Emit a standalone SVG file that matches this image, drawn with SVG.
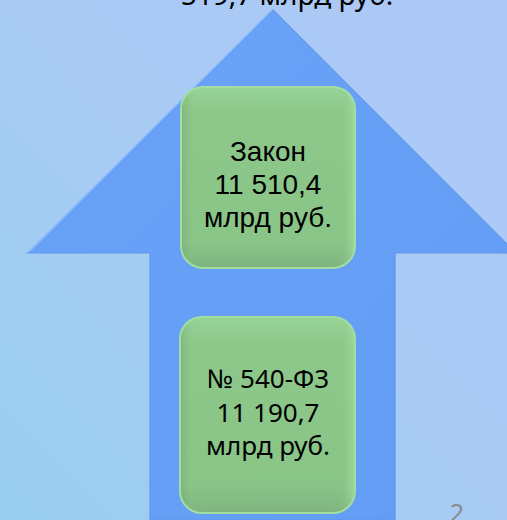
<svg xmlns="http://www.w3.org/2000/svg" width="507" height="520" viewBox="0 0 507 520">
<defs>
<linearGradient id="bg" x1="1" y1="0" x2="0" y2="1">
<stop offset="0" stop-color="#AEC8F7"/>
<stop offset="0.5" stop-color="#A8CBF4"/>
<stop offset="1" stop-color="#98CEF1"/>
</linearGradient>
<linearGradient id="arrowFill" x1="0" y1="0" x2="1" y2="1">
<stop offset="0" stop-color="#6AA3F8"/>
<stop offset="1" stop-color="#629CF4"/>
</linearGradient>
<linearGradient id="boxFill" x1="0" y1="0" x2="0" y2="1">
<stop offset="0" stop-color="#97D396"/>
<stop offset="0.15" stop-color="#8DC88A"/>
<stop offset="0.85" stop-color="#8AC588"/>
<stop offset="1" stop-color="#7FB47F"/>
</linearGradient>
<linearGradient id="boxSide" x1="0" y1="0" x2="1" y2="0">
<stop offset="0" stop-color="#6FA36F" stop-opacity="0.45"/>
<stop offset="0.08" stop-color="#8DC88A" stop-opacity="0"/>
<stop offset="0.92" stop-color="#8DC88A" stop-opacity="0"/>
<stop offset="1" stop-color="#A6E2A4" stop-opacity="0.6"/>
</linearGradient>
</defs>
<style>
.box{fill:url(#boxFill);stroke:#A2DEA0;stroke-width:2}
.shade{fill:url(#boxSide)}
.t1{font-family:"Liberation Sans",Arial,sans-serif;font-size:28px;fill:#000;text-anchor:middle}
.t2{font-family:"Noto Sans","Open Sans",sans-serif;font-size:26px;fill:#000;text-anchor:middle}
</style>
<rect width="507" height="520" fill="url(#bg)"/>
<g id="top-label">
<text x="287" y="5" font-family="'Noto Sans','Open Sans',sans-serif" font-size="28" text-anchor="middle" fill="#000">519,7 млрд руб.</text>
</g>
<g id="arrow">
<polygon points="273,10 516,253 395,253 395,520 150,520 150,253 28,253" fill="url(#arrowFill)" stroke="#5F97EA" stroke-width="1.2"/>
<polyline points="29,252 272,10" fill="none" stroke="#8CBBFA" stroke-width="1.5"/>
</g>
<g id="connectors"></g>
<g id="node-zakon">
<rect class="box" x="181" y="87" width="174" height="181" rx="22"/>
<rect class="shade" x="182" y="88" width="172" height="179" rx="21"/>
<text class="t1" x="268" y="161">Закон</text>
<text class="t1" x="268" y="194">11 510,4</text>
<text class="t1" x="268" y="227">млрд руб.</text>
</g>
<g id="node-540">
<rect class="box" x="180" y="317" width="175" height="196" rx="22"/>
<rect class="shade" x="181" y="318" width="173" height="194" rx="21"/>
<text class="t2" x="268" y="388">№ 540-Ф3</text>
<text class="t2" x="268" y="422">11 190,7</text>
<text class="t2" x="268" y="455">млрд руб.</text>
</g>
<g id="page-number">
<text x="457" y="522" font-family="'Noto Sans','Open Sans',sans-serif" font-size="26" fill="#8C8C8C" text-anchor="middle">2</text>
</g>
</svg>
